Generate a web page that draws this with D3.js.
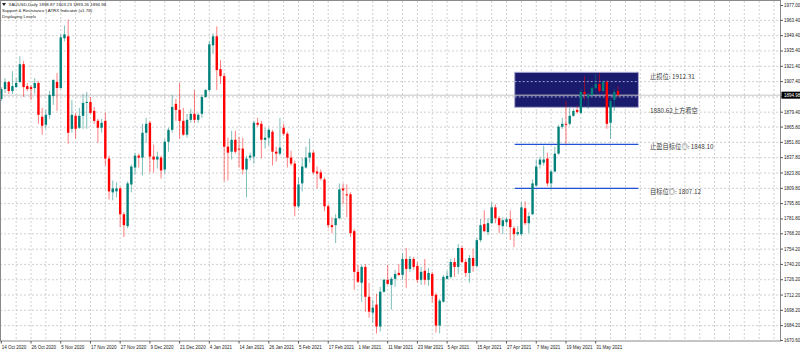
<!DOCTYPE html>
<html>
<head>
<meta charset="utf-8">
<script src="https://cdn.jsdelivr.net/npm/d3@7"></script>
<style>
  body { margin: 0; background: #fff; }
  svg { display: block; }
</style>
</head>
<body>
<svg id="chart"></svg>
<script>
// ====== XAUUSD Daily, candles (14 Oct 2020 -> 8 Jun 2021) ====== //

const opens = [
  1891.5,1900.6,1907.0,1898.8,1902.4,1907.0,1923.3,1903.3,1902.4,1901.5,
  1906.1,1875.2,1867.9,1877.0,1894.2,1907.0,1901.5,1947.0,1948.8,1864.2,
  1876.1,1865.2,1876.1,1887.9,1888.8,1880.6,1871.5,1865.2,1871.5,1837.0,
  1806.1,1807.0,1809.7,1786.1,1775.2,1813.3,1828.8,1839.7,1837.9,1860.6,
  1869.7,1838.8,1836.1,1837.9,1827.0,1852.4,1863.3,1887.0,1881.5,1871.5,
  1858.8,1872.4,1877.9,1872.4,1877.9,1893.3,1899.7,1940.6,1948.8,1918.8,
  1912.4,1847.9,1843.3,1854.2,1846.1,1846.1,1827.0,1837.9,1838.8,1869.7,
  1868.8,1854.2,1856.1,1861.5,1843.3,1841.5,1865.2,1859.7,1837.9,1832.4,
  1793.3,1814.3,1828.8,1837.9,1842.4,1825.2,1824.3,1817.9,1793.3,1776.1,
  1776.1,1782.4,1809.7,1804.3,1804.3,1770.6,1733.4,1723.4,1737.9,1710.6,
  1696.1,1703.4,1683.4,1715.2,1726.1,1721.5,1727.0,1732.4,1730.6,1745.2,
  1736.1,1745.2,1738.8,1726.1,1734.3,1726.1,1731.5,1712.4,1684.3,1706.1,
  1727.0,1728.8,1742.4,1737.9,1755.2,1742.4,1732.4,1746.1,1738.8,1762.4,
  1777.0,1769.7,1777.9,1792.4,1782.4,1775.2,1778.8,1781.5,1773.3,1767.9,
  1767.9,1791.5,1777.9,1786.1,1812.4,1831.5,1833.3,1837.0,1814.3,1825.2,
  1841.5,1866.1,1868.8,1868.8,1876.1,1881.5,1878.8,1897.9,1893.3,1895.2,
  1901.5,1905.2,1898.8,1907.0,1869.7,1890.6,1898.87
];
const highs = [
  1902.4,1910.6,1907.9,1917.0,1910.6,1930.6,1926.1,1906.1,1904.2,1910.6,
  1907.9,1883.3,1881.5,1898.8,1909.7,1915.2,1950.6,1958.8,1964.2,1890.6,
  1878.8,1883.3,1896.1,1897.9,1893.3,1884.2,1873.3,1873.3,1878.8,1839.7,
  1817.0,1815.2,1811.5,1787.9,1816.1,1831.5,1842.4,1841.5,1868.8,1874.2,
  1871.5,1849.7,1843.3,1839.7,1855.2,1865.2,1895.2,1891.5,1906.1,1883.3,
  1877.9,1882.4,1899.7,1878.8,1895.2,1900.6,1944.2,1951.5,1957.9,1927.0,
  1915.2,1856.1,1862.4,1862.4,1857.0,1856.1,1839.7,1842.4,1871.5,1874.2,
  1871.5,1865.2,1865.2,1863.3,1847.9,1874.2,1868.8,1861.5,1844.2,1835.2,
  1819.7,1837.9,1847.9,1855.2,1844.2,1829.7,1827.0,1819.7,1795.2,1783.3,
  1786.1,1814.3,1814.3,1813.3,1806.1,1772.4,1739.7,1739.7,1740.6,1723.4,
  1707.9,1713.4,1719.7,1727.0,1739.7,1728.8,1735.2,1740.6,1750.6,1755.2,
  1747.9,1747.0,1742.4,1737.9,1745.2,1737.0,1733.4,1714.3,1708.8,1730.6,
  1734.3,1745.2,1746.1,1758.8,1757.0,1745.2,1748.8,1754.3,1764.3,1781.5,
  1789.7,1782.4,1797.0,1795.2,1784.3,1783.3,1783.3,1789.7,1775.2,1775.2,
  1797.0,1797.9,1787.9,1817.9,1836.1,1838.8,1848.8,1842.4,1826.1,1847.9,
  1867.9,1874.2,1889.7,1883.3,1882.4,1885.2,1900.6,1912.4,1897.0,1903.3,
  1914.2,1915.2,1908.8,1908.8,1891.5,1900.6,1903.23
];
const lows = [
  1889.7,1897.0,1896.1,1896.1,1901.5,1906.1,1893.3,1898.8,1890.6,1896.1,
  1868.8,1858.8,1864.2,1873.3,1886.1,1880.6,1900.6,1944.2,1850.6,1860.6,
  1855.2,1864.2,1864.2,1864.2,1877.9,1868.8,1851.5,1860.6,1830.6,1799.7,
  1798.8,1801.5,1774.3,1765.2,1773.3,1806.1,1822.4,1828.8,1821.5,1851.5,
  1824.3,1824.3,1827.9,1818.8,1823.3,1843.3,1860.6,1871.5,1855.2,1857.9,
  1856.1,1869.7,1869.7,1869.7,1874.2,1892.4,1897.9,1932.4,1899.7,1905.2,
  1816.1,1817.0,1836.1,1841.5,1828.8,1822.4,1801.5,1835.2,1832.4,1866.1,
  1837.0,1846.1,1848.8,1830.6,1834.3,1839.7,1857.9,1828.8,1830.6,1784.3,
  1791.5,1807.0,1827.9,1833.3,1822.4,1809.7,1817.0,1788.8,1773.3,1768.8,
  1759.7,1781.5,1795.2,1783.3,1765.2,1717.0,1723.4,1706.1,1697.0,1691.5,
  1687.0,1677.0,1678.8,1714.3,1721.5,1698.8,1719.7,1729.7,1726.1,1718.8,
  1733.4,1735.2,1723.4,1721.5,1721.5,1720.6,1705.2,1677.9,1677.0,1705.2,
  1726.1,1727.0,1728.8,1731.5,1741.5,1728.8,1723.4,1733.4,1737.0,1760.6,
  1769.7,1767.0,1777.0,1777.9,1768.8,1767.9,1775.2,1762.4,1756.1,1766.1,
  1766.1,1776.1,1768.8,1785.2,1811.5,1827.9,1830.6,1811.5,1808.8,1824.3,
  1840.6,1864.2,1850.6,1867.0,1875.2,1877.9,1877.9,1890.6,1882.4,1893.3,
  1900.6,1897.0,1897.0,1864.2,1855.2,1880.6,1893.26
];
const closes = [
  1900.6,1907.0,1898.8,1903.3,1906.1,1923.3,1902.4,1900.6,1900.6,1906.1,
  1877.0,1867.0,1877.0,1895.2,1908.8,1901.5,1947.9,1950.6,1860.6,1877.0,
  1864.2,1876.1,1887.9,1888.8,1878.8,1871.5,1865.2,1869.7,1837.0,1807.0,
  1809.7,1809.7,1786.1,1776.1,1814.3,1829.7,1839.7,1837.9,1860.6,1868.8,
  1838.8,1836.1,1838.8,1826.1,1852.4,1863.3,1884.2,1881.5,1871.5,1858.8,
  1872.4,1877.9,1872.4,1877.0,1893.3,1899.7,1941.5,1948.8,1917.9,1912.4,
  1847.9,1842.4,1854.2,1843.3,1845.2,1827.0,1837.0,1839.7,1869.7,1867.9,
  1854.2,1856.1,1863.3,1843.3,1841.5,1847.0,1859.7,1837.9,1832.4,1793.3,
  1813.3,1829.7,1837.9,1842.4,1824.3,1823.3,1818.8,1793.3,1776.1,1774.3,
  1782.4,1808.8,1807.9,1803.3,1768.8,1733.4,1724.3,1737.9,1710.6,1697.0,
  1700.6,1683.4,1715.2,1726.1,1722.4,1727.0,1731.5,1730.6,1745.2,1736.1,
  1745.2,1737.9,1726.1,1733.4,1726.1,1732.4,1711.5,1684.3,1707.0,1728.8,
  1729.7,1742.4,1737.9,1755.2,1742.4,1732.4,1746.1,1738.8,1762.4,1776.1,
  1770.6,1777.9,1792.4,1782.4,1776.1,1780.6,1781.5,1774.3,1767.9,1769.7,
  1792.4,1777.9,1784.3,1814.3,1829.7,1836.1,1836.1,1814.3,1825.2,1841.5,
  1866.1,1868.8,1867.9,1876.1,1880.6,1879.7,1897.9,1896.1,1895.2,1901.5,
  1905.2,1898.8,1907.0,1868.8,1889.7,1897.9,1894.98
];

// x axis labels, one every 8 bars
const dateLabels = [
  "14 Oct 2020","26 Oct 2020","5 Nov 2020","17 Nov 2020","27 Nov 2020","9 Dec 2020",
  "21 Dec 2020","4 Jan 2021","14 Jan 2021","26 Jan 2021","5 Feb 2021","17 Feb 2021",
  "1 Mar 2021","11 Mar 2021","23 Mar 2021","5 Apr 2021","15 Apr 2021","27 Apr 2021",
  "7 May 2021","19 May 2021","31 May 2021"
];
// price axis labels
const priceTicks = [
  1977.00,1963.40,1949.40,1935.40,1921.40,1907.40,1893.40,1879.40,1865.80,1851.80,
  1837.80,1823.80,1809.80,1795.80,1781.80,1768.20,1754.20,1740.20,1726.20,1712.20,
  1698.20,1684.20,1670.60
];
const bidPrice = 1894.98;

// objects drawn on the chart
const zoneBars = [138.2, 171.5];        // left / right edge in bar units
const zonePrices = [1915.9, 1883.9];    // top / bottom
const lineBars = [138.2, 171.5];
const linePrices = [1850.0, 1809.8];
const levelPrices = [1912.31, 1880.62, 1848.10, 1807.12];
const levelTexts = ["止损位: 1912.31", "1880.62上方看空", "止盈目标位◎: 1848.10", "目标位◎: 1807.12"];

const headerLines = [
  "XAUUSD,Daily  1898.87 1903.23 1893.26 1894.98",
  "Support & Resistance | ATRX Indicator (v1.76)",
  "Displaying Levels"
];

// ====== Constantes ====== //
const width = 800;
const height = 352;
const plotRight = 780.5;
const plotBottom = 341;
const font = "'Liberation Sans', Arial, sans-serif";

const svg = d3.select('#chart')
  .attr('width', width)
  .attr('height', height);

const x = d3.scaleLinear().domain([0, 200]).range([1.3, 1.3 + 3.715 * 200]);
const y = d3.scaleLinear().domain([1670.6, 1977.0]).range([340.5, 5.5]);

const bars = opens.map((o, i) => ({ i, o, h: highs[i], l: lows[i], c: closes[i] }));

// ====== grid ====== //
const gridBars = d3.range(4, 210, 4).filter(i => x(i) < plotRight - 1);
svg.append('g').selectAll('line')
  .data(gridBars)
  .join('line')
  .attr('x1', d => x(d)).attr('x2', d => x(d))
  .attr('y1', 1).attr('y2', plotBottom)
  .attr('stroke', '#c4c4c4')
  .attr('stroke-width', 0.8)
  .attr('stroke-dasharray', '2,2');

svg.append('g').selectAll('line')
  .data(priceTicks.slice(1, -1))
  .join('line')
  .attr('x1', 0).attr('x2', plotRight)
  .attr('y1', d => y(d)).attr('y2', d => y(d))
  .attr('stroke', '#c4c4c4')
  .attr('stroke-width', 0.8)
  .attr('stroke-dasharray', '2,2');

// ====== zone (background rectangle) ====== //
svg.append('rect')
  .attr('x', x(zoneBars[0]))
  .attr('y', y(zonePrices[0]))
  .attr('width', x(zoneBars[1]) - x(zoneBars[0]))
  .attr('height', y(zonePrices[1]) - y(zonePrices[0]))
  .attr('fill', '#1b1b6e')
  .attr('stroke', '#a9a9cf')
  .attr('stroke-width', 1);

// grid lines stay visible over the zone
svg.append('g').selectAll('line')
  .data(priceTicks.filter(p => p < zonePrices[0] && p > zonePrices[1]))
  .join('line')
  .attr('x1', x(zoneBars[0])).attr('x2', x(zoneBars[1]))
  .attr('y1', d => y(d)).attr('y2', d => y(d))
  .attr('stroke', '#c8c8e8')
  .attr('stroke-dasharray', '2,2')
  .attr('stroke-width', 0.8);

// bid line
svg.append('line')
  .attr('x1', 0).attr('x2', plotRight)
  .attr('y1', y(bidPrice)).attr('y2', y(bidPrice))
  .attr('stroke', '#c8c8c8')
  .attr('stroke-width', 1);

// blue target lines
svg.append('g').selectAll('line')
  .data(linePrices)
  .join('line')
  .attr('x1', x(lineBars[0])).attr('x2', x(lineBars[1]))
  .attr('y1', d => y(d)).attr('y2', d => y(d))
  .attr('stroke', '#2050d8')
  .attr('stroke-width', 1.3);

// ====== candles ====== //
const up = '#00807a';
const down = '#ff0000';

svg.append('g').selectAll('line')
  .data(bars)
  .join('line')
  .attr('x1', d => x(d.i)).attr('x2', d => x(d.i))
  .attr('y1', d => y(d.h)).attr('y2', d => y(d.l))
  .attr('stroke', d => d.c >= d.o ? up : down)
  .attr('stroke-opacity', 0.5)
  .attr('stroke-width', 1);

svg.append('g').selectAll('rect')
  .data(bars)
  .join('rect')
  .attr('x', d => x(d.i) - 1.2)
  .attr('width', 2.4)
  .attr('y', d => y(Math.max(d.o, d.c)))
  .attr('height', d => Math.max(1, Math.abs(y(d.o) - y(d.c))))
  .attr('fill', d => d.c >= d.o ? up : down);

// ====== level texts ====== //
svg.append('g').selectAll('text')
  .data(levelTexts)
  .join('text')
  .attr('x', x(zoneBars[1]) + 11.5)
  .attr('y', (d, i) => y(levelPrices[i]))
  .attr('dominant-baseline', 'central')
  .attr('font-family', "'Noto Sans CJK SC', sans-serif")
  .attr('font-size', 6.3)
  .attr('fill', '#3a3a3a')
  .text(d => d);

// ====== frame and axes ====== //
svg.append('rect')
  .attr('x', 0.5).attr('y', 0.5)
  .attr('width', plotRight - 0.5).attr('height', plotBottom - 0.5)
  .attr('fill', 'none')
  .attr('stroke', '#8a8a8a')
  .attr('stroke-width', 1);

// price axis (the label under the bid box is hidden, as in the terminal)
const yAxis = svg.append('g');
yAxis.selectAll('line')
  .data(priceTicks)
  .join('line')
  .attr('x1', plotRight).attr('x2', plotRight + 2.5)
  .attr('y1', d => y(d)).attr('y2', d => y(d))
  .attr('stroke', '#555');
yAxis.selectAll('text')
  .data(priceTicks.filter(p => Math.abs(y(p) - y(bidPrice)) > 5))
  .join('text')
  .attr('x', plotRight + 3.5)
  .attr('y', d => y(d))
  .attr('dominant-baseline', 'central')
  .attr('font-family', font)
  .attr('font-size', 4.5)
  .attr('fill', '#222')
  .text(d => d.toFixed(2));

// bid label
svg.append('rect')
  .attr('x', plotRight + 1).attr('y', y(bidPrice) - 3.5)
  .attr('width', 19).attr('height', 7)
  .attr('fill', '#000');
svg.append('text')
  .attr('x', plotRight + 3.5).attr('y', y(bidPrice))
  .attr('dominant-baseline', 'central')
  .attr('font-family', font)
  .attr('font-size', 4.5)
  .attr('fill', '#fff')
  .text(bidPrice.toFixed(2));

// date axis
const xAxis = svg.append('g');
xAxis.selectAll('line')
  .data(dateLabels)
  .join('line')
  .attr('x1', (d, i) => x(i * 8)).attr('x2', (d, i) => x(i * 8))
  .attr('y1', plotBottom).attr('y2', plotBottom + 2.5)
  .attr('stroke', '#555');
xAxis.selectAll('text')
  .data(dateLabels)
  .join('text')
  .attr('x', (d, i) => x(i * 8) + 0.5)
  .attr('y', 348.5)
  .attr('font-family', font)
  .attr('font-size', 4.5)
  .attr('fill', '#222')
  .text(d => d);

// ====== header ====== //
svg.append('path')
  .attr('d', 'M2,3 L6,3 L4,6 Z')
  .attr('fill', '#222');
svg.append('g').selectAll('text')
  .data(headerLines)
  .join('text')
  .attr('x', (d, i) => i === 0 ? 8.5 : 2)
  .attr('y', (d, i) => 6.3 + i * 5.8)
  .attr('font-family', font)
  .attr('font-size', 4.4)
  .attr('fill', '#222')
  .text(d => d);
</script>
</body>
</html>
